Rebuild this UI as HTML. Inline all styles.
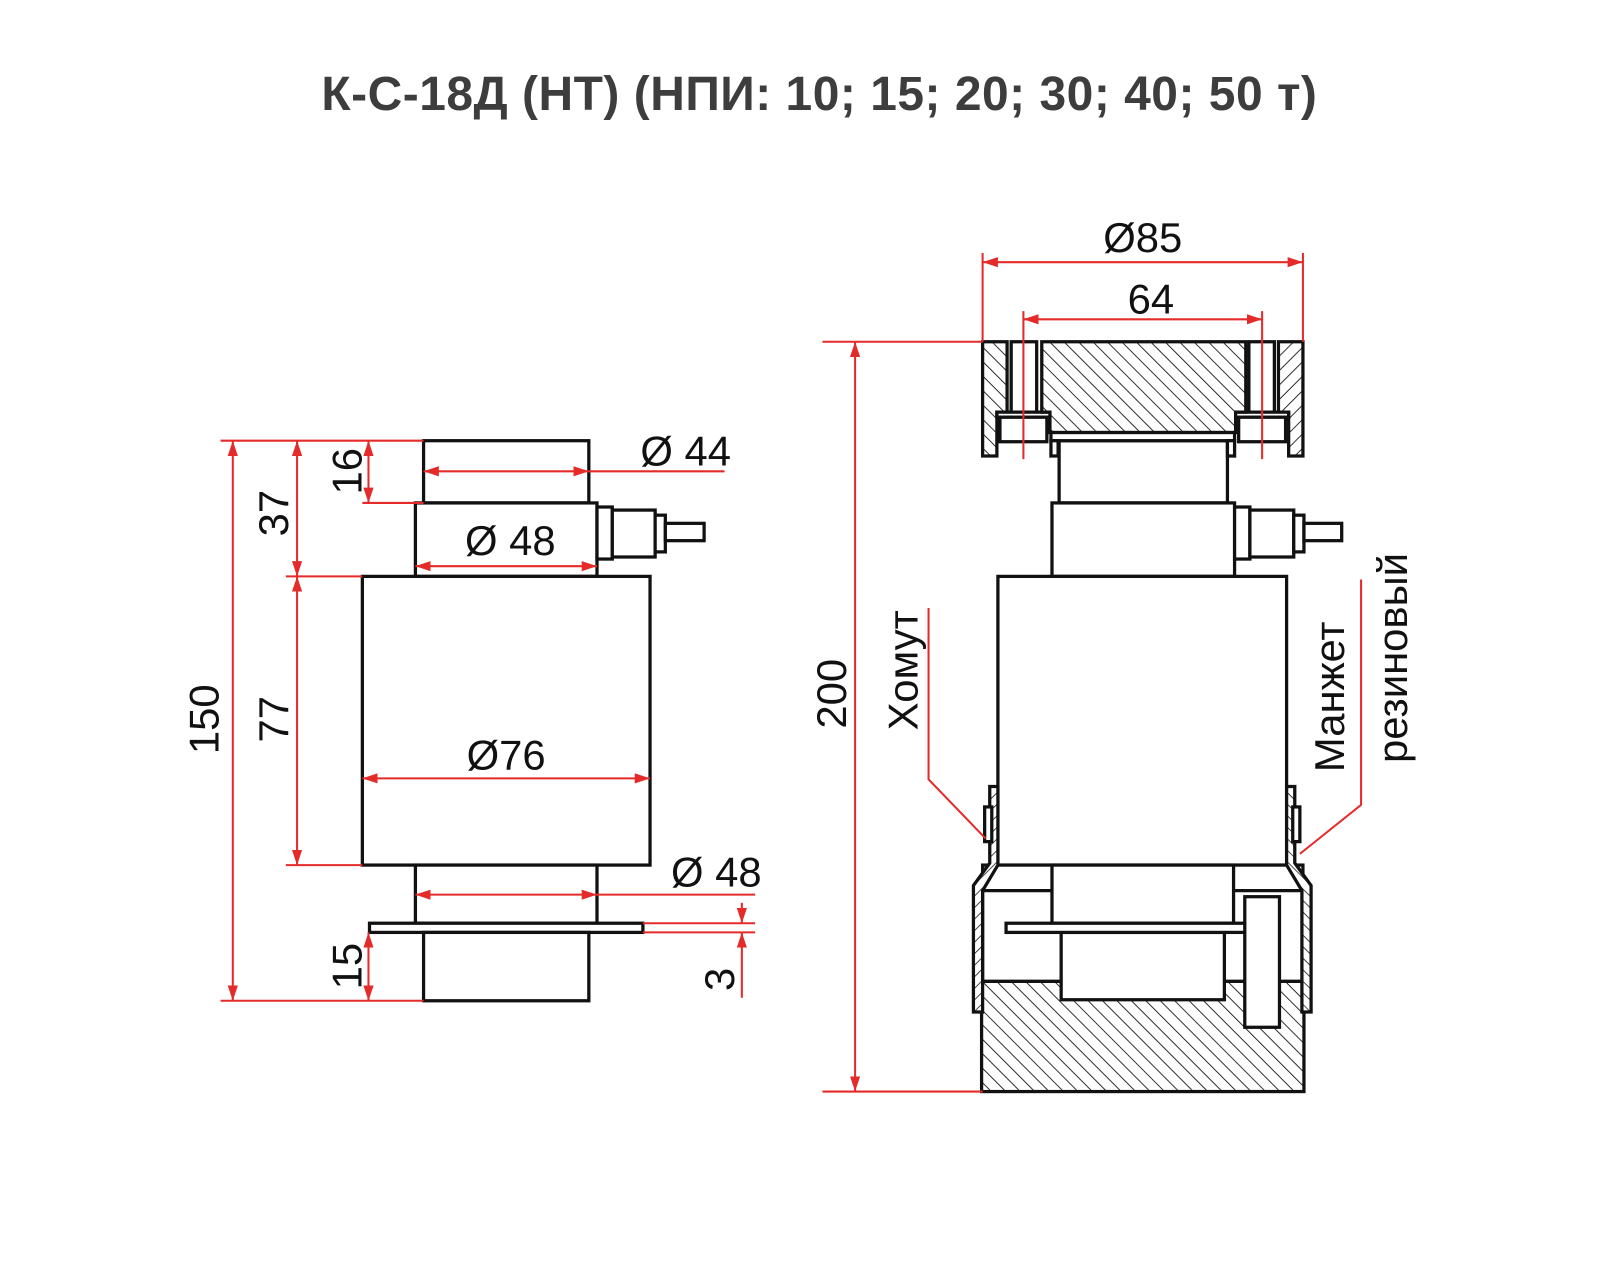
<!DOCTYPE html>
<html><head><meta charset="utf-8"><style>
html,body{margin:0;padding:0;background:#fff;}
svg{display:block;}
text{font-family:"Liberation Sans",sans-serif;fill:#111;}
</style></head><body>
<svg width="1600" height="1266" viewBox="0 0 1568 1241" xmlns="http://www.w3.org/2000/svg">
<defs>
<pattern id="h" patternUnits="userSpaceOnUse" width="10" height="10" patternTransform="rotate(-45)">
<rect width="10" height="10" fill="#fff"/><line x1="0" y1="0" x2="0" y2="10" stroke="#111" stroke-width="1.7"/></pattern>
<pattern id="h2" patternUnits="userSpaceOnUse" width="8" height="8" patternTransform="rotate(45)">
<rect width="8" height="8" fill="#fff"/><line x1="0" y1="0" x2="0" y2="8" stroke="#111" stroke-width="1.5"/></pattern>
<marker id="a" markerUnits="userSpaceOnUse" markerWidth="16" markerHeight="10" refX="15" refY="5" orient="auto-start-reverse"><path d="M0,0 L15,5 L0,10 z" fill="#e52a2a"/></marker>
</defs>
<text x="803" y="108" text-anchor="middle" font-size="47" font-weight="bold" letter-spacing="0.5" style="fill:#3d3d3d">К-С-18Д (НТ) (НПИ: 10; 15; 20; 30; 40; 50 т)</text>

<g fill="#fff" stroke="#111" stroke-width="3.2">
<rect x="415" y="432" width="162" height="61"/>
<rect x="407" y="493" width="178" height="72"/>
<rect x="585" y="497" width="15" height="51"/>
<rect x="600" y="500" width="42" height="46"/>
<rect x="642" y="505" width="10" height="36"/>
<rect x="652" y="513" width="38" height="17"/>
<rect x="355" y="565" width="282" height="283"/>
<rect x="407" y="848" width="178" height="57"/>
<rect x="362" y="905" width="268" height="9"/>
<rect x="415" y="914" width="162" height="67"/>

<rect x="1038" y="432" width="165" height="61"/>
<rect x="1031" y="493" width="179" height="72"/>
<rect x="1210" y="497" width="15" height="51"/>
<rect x="1225" y="500" width="43" height="46"/>
<rect x="1268" y="505" width="10" height="36"/>
<rect x="1278" y="513" width="37" height="17"/>
<rect x="978" y="565" width="283" height="283"/>
<rect x="963" y="848" width="314" height="114"/>
<line x1="963" y1="873" x2="1031" y2="873"/>
<line x1="1209" y1="873" x2="1277" y2="873"/>
<rect x="1031" y="848" width="178" height="57"/>
<rect x="962" y="962" width="316" height="108" fill="url(#h)"/>
<rect x="1040" y="914" width="160" height="66"/>
<rect x="986" y="905" width="267" height="9"/>
<rect x="1220" y="879" width="34" height="128"/>

<g id="sh">
<polygon points="970,771 978,771 978,848 963,873 963,992 954,992 954,868 970,846" fill="url(#h2)"/>
<rect x="965" y="791" width="7" height="34"/>
</g>
<use href="#sh" transform="translate(2239,0) scale(-1,1)"/>

<g id="fl">
<polygon points="963,335 987,335 987,404 977,404 977,447 963,447" fill="url(#h)"/>
<rect x="991" y="335" width="25" height="69"/>
<rect x="977" y="404" width="53" height="5"/>
<rect x="980" y="409" width="46" height="24"/>
</g>
<use href="#fl" transform="translate(2240,0) scale(-1,1)"/>
<polygon points="1021,335 1221,335 1221,404 1211,404 1211,424 1029,424 1029,404 1021,404" fill="url(#h)"/>
<rect x="1030" y="424" width="180" height="8"/>
<rect x="1030" y="432" width="7" height="15"/>
<rect x="1203" y="432" width="7" height="15"/>
</g>

<g stroke="#e52a2a" stroke-width="2" fill="none">
<line x1="216" y1="432" x2="415" y2="432"/>
<line x1="216" y1="981" x2="415" y2="981"/>
<line x1="228" y1="432" x2="228" y2="981" marker-start="url(#a)" marker-end="url(#a)"/>
<line x1="280" y1="565" x2="355" y2="565"/>
<line x1="280" y1="848" x2="355" y2="848"/>
<line x1="291" y1="432" x2="291" y2="565" marker-start="url(#a)" marker-end="url(#a)"/>
<line x1="291" y1="565" x2="291" y2="848" marker-start="url(#a)" marker-end="url(#a)"/>
<line x1="355" y1="493" x2="415" y2="493"/>
<line x1="361" y1="432" x2="361" y2="493" marker-start="url(#a)" marker-end="url(#a)"/>
<line x1="361" y1="914" x2="361" y2="981" marker-start="url(#a)" marker-end="url(#a)"/>
<line x1="415" y1="462" x2="577" y2="462" marker-start="url(#a)" marker-end="url(#a)"/>
<line x1="577" y1="462" x2="710" y2="462"/>
<line x1="407" y1="555" x2="585" y2="555" marker-start="url(#a)" marker-end="url(#a)"/>
<line x1="355" y1="763" x2="637" y2="763" marker-start="url(#a)" marker-end="url(#a)"/>
<line x1="407" y1="877" x2="585" y2="877" marker-start="url(#a)" marker-end="url(#a)"/>
<line x1="585" y1="877" x2="740" y2="877"/>
<line x1="630" y1="905" x2="740" y2="905"/>
<line x1="630" y1="914" x2="740" y2="914"/>
<line x1="727" y1="885" x2="727" y2="905" marker-end="url(#a)"/>
<line x1="727" y1="978" x2="727" y2="914" marker-end="url(#a)"/>
<line x1="963" y1="248" x2="963" y2="335"/>
<line x1="1277" y1="248" x2="1277" y2="335"/>
<line x1="963" y1="257" x2="1277" y2="257" marker-start="url(#a)" marker-end="url(#a)"/>
<line x1="1003" y1="305" x2="1003" y2="450"/>
<line x1="1237" y1="305" x2="1237" y2="450"/>
<line x1="1003" y1="313" x2="1237" y2="313" marker-start="url(#a)" marker-end="url(#a)"/>
<line x1="806" y1="335" x2="963" y2="335"/>
<line x1="806" y1="1070" x2="963" y2="1070"/>
<line x1="838" y1="335" x2="838" y2="1070" marker-start="url(#a)" marker-end="url(#a)"/>
<polyline points="910,596 910,764 966,822"/>
<polyline points="1334,568 1334,789 1274,837"/>
</g>

<g font-size="41" text-anchor="middle" dominant-baseline="central">
<text x="672" y="442">Ø 44</text>
<text x="500" y="530">Ø 48</text>
<text x="496" y="740">Ø76</text>
<text x="702" y="855">Ø 48</text>
<text x="1120" y="233">Ø85</text>
<text x="1128" y="293">64</text>
<text transform="translate(200,705) rotate(-90)">150</text>
<text transform="translate(268,503) rotate(-90)">37</text>
<text transform="translate(268,705) rotate(-90)">77</text>
<text transform="translate(340,462) rotate(-90)">16</text>
<text transform="translate(340,947) rotate(-90)">15</text>
<text transform="translate(705,960) rotate(-90)">3</text>
<text transform="translate(815,680) rotate(-90)">200</text>
<text transform="translate(885,657) rotate(-90)">Хомут</text>
<text transform="translate(1303,683) rotate(-90)">Манжет</text>
<text transform="translate(1365,645) rotate(-90)">резиновый</text>
</g>
</svg>
</body></html>
